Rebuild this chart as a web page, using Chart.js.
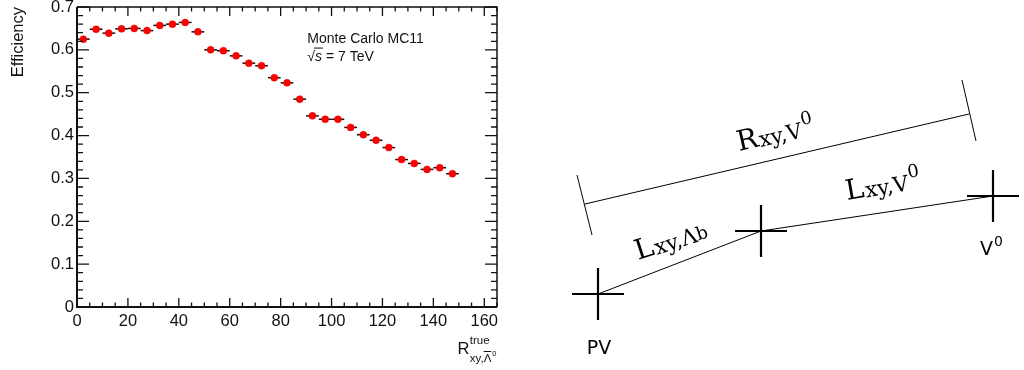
<!DOCTYPE html>
<html>
<head>
<meta charset="utf-8">
<script src="https://cdn.jsdelivr.net/npm/chart.js@4.4.1/dist/chart.umd.min.js"></script>
<style>
  body { margin: 0; background: #fff; width: 1024px; height: 370px; overflow: hidden; position: relative; }
  .box { position: absolute; top: 0; height: 370px; }
  #effBox { left: 0; width: 520px; }
  #vtxBox { left: 520px; width: 504px; }
</style>
</head>
<body>
<div class="box" id="effBox"><canvas id="effChart"></canvas></div>
<div class="box" id="vtxBox"><canvas id="vtxChart"></canvas></div>
<script>
// DATOS - eficiencia vs R_xy

const binCenters = [2.5, 7.5, 12.5, 17.5, 22.5, 27.5, 32.5, 37.5, 42.5, 47.5,
  52.5, 57.5, 62.5, 67.5, 72.5, 77.5, 82.5, 87.5, 92.5, 97.5,
  102.5, 107.5, 112.5, 117.5, 122.5, 127.5, 132.5, 137.5, 142.5, 147.5];
const binHalfWidth = 2.5;
const efficiency = [0.625, 0.648, 0.639, 0.649, 0.650, 0.645, 0.657, 0.660, 0.664, 0.642,
  0.600, 0.598, 0.586, 0.569, 0.563, 0.535, 0.523, 0.485, 0.446, 0.438,
  0.438, 0.419, 0.402, 0.389, 0.372, 0.344, 0.335, 0.321, 0.325, 0.311];
const xTickStep = 20;
const xMinorStep = 5;
const yTickStep = 0.1;
const yMinorStep = 0.02;
const infoLines = ['Monte Carlo MC11', '= 7 TeV'];

// DATOS - esquema de vertices (PV, vertice Lambda_b, V0)
const vertexX = [0, 163, 395];
const vertexY = [0, 63, 98];
const bracketX = [-13, 371];
const bracketY = [90, 180];
const capLeftX = [-21, -6];
const capLeftY = [119, 59];
const capRightX = [364, 378];
const capRightY = [214, 153];

const SANS = '"Liberation Sans", Arial, sans-serif';
const SERIF = '"DejaVu Serif", "Liberation Serif", serif';
const INK = '#111';

Chart.defaults.font.family = SANS;
Chart.defaults.color = INK;

// Frame estilo ROOT: ticks hacia adentro, barras de error, titulos

const rootFrame = {
  id: 'rootFrame',
  beforeDatasetsDraw(chart) {
    const { ctx, scales: { x, y } } = chart;
    ctx.save();
    ctx.strokeStyle = INK;
    ctx.lineWidth = 1.5;
    binCenters.forEach((c, i) => {
      const py = y.getPixelForValue(efficiency[i]);
      ctx.beginPath();
      ctx.moveTo(x.getPixelForValue(c - binHalfWidth), py);
      ctx.lineTo(x.getPixelForValue(c + binHalfWidth), py);
      ctx.stroke();
    });
    ctx.restore();
  },
  afterDraw(chart) {
    const { ctx, chartArea: a, scales: { x, y } } = chart;
    ctx.save();
    ctx.strokeStyle = INK;

    // ticks eje x (abajo y arriba)
    ctx.lineWidth = 1.3;
    for (let v = x.min; v <= x.max + 1e-9; v += xMinorStep) {
      const px = x.getPixelForValue(v);
      const len = Math.abs(v % xTickStep) < 1e-9 ? 9 : 4.5;
      ctx.beginPath();
      ctx.moveTo(px, a.bottom); ctx.lineTo(px, a.bottom - len);
      ctx.moveTo(px, a.top); ctx.lineTo(px, a.top + len);
      ctx.stroke();
    }
    // ticks eje y (izq y der)
    let k = 0;
    for (let v = y.min; v <= y.max + 1e-9; v += yMinorStep, k++) {
      const py = y.getPixelForValue(v);
      const len = k % Math.round(yTickStep / yMinorStep) === 0 ? 12 : 6;
      ctx.beginPath();
      ctx.moveTo(a.left, py); ctx.lineTo(a.left + len, py);
      ctx.moveTo(a.right, py); ctx.lineTo(a.right - len, py);
      ctx.stroke();
    }

    // marco
    ctx.lineWidth = 2;
    ctx.beginPath();
    ctx.moveTo(a.left, a.top); ctx.lineTo(a.left, a.bottom); ctx.lineTo(a.right, a.bottom);
    ctx.stroke();
    ctx.lineWidth = 1.5;
    ctx.beginPath();
    ctx.moveTo(a.left, a.top); ctx.lineTo(a.right, a.top); ctx.lineTo(a.right, a.bottom);
    ctx.stroke();

    ctx.fillStyle = INK;
    ctx.textBaseline = 'alphabetic';

    // titulo eje y
    ctx.save();
    ctx.translate(23, a.top);
    ctx.rotate(-Math.PI / 2);
    ctx.textAlign = 'right';
    ctx.font = '16.5px ' + SANS;
    ctx.fillText('Efficiency', 0, 0);
    ctx.restore();

    // titulo eje x: R^{true}_{xy,#bar{#Lambda}^{0}}
    ctx.textAlign = 'left';
    ctx.font = '16.5px ' + SANS;
    const wR = ctx.measureText('R').width;
    ctx.font = '11.5px ' + SANS;
    const wSup = ctx.measureText('true').width;
    const wSubA = ctx.measureText('xy,').width;
    const wLam = ctx.measureText('Λ').width;
    ctx.font = '7.5px ' + SANS;
    const wZero = ctx.measureText('0').width;
    const total = wR + Math.max(wSup, wSubA + wLam + wZero + 1);
    let tx = a.right - total - 1;
    const base = a.bottom + 47;
    ctx.font = '16.5px ' + SANS;
    ctx.fillText('R', tx, base);
    tx += wR + 0.5;
    ctx.font = '11.5px ' + SANS;
    ctx.fillText('true', tx, base - 10);
    ctx.fillText('xy,Λ', tx, base + 8);
    ctx.lineWidth = 1;
    ctx.beginPath();
    ctx.moveTo(tx + wSubA, base - 2.5);
    ctx.lineTo(tx + wSubA + wLam, base - 2.5);
    ctx.stroke();
    ctx.font = '7.5px ' + SANS;
    ctx.fillText('0', tx + wSubA + wLam + 1, base + 2);

    // texto Monte Carlo
    const lx = x.getPixelForValue(90.5);
    ctx.font = '14px ' + SANS;
    ctx.fillText(infoLines[0], lx, y.getPixelForValue(0.617));
    const b2 = y.getPixelForValue(0.575);
    ctx.fillText('√', lx, b2);
    const wRad = ctx.measureText('√').width;
    ctx.font = 'italic 14px ' + SANS;
    ctx.fillText('s', lx + wRad, b2);
    const wS = ctx.measureText('s').width;
    ctx.lineWidth = 1;
    ctx.beginPath();
    ctx.moveTo(lx + wRad - 1, b2 - 12.5);
    ctx.lineTo(lx + wRad + wS + 1, b2 - 12.5);
    ctx.stroke();
    ctx.font = '14px ' + SANS;
    ctx.fillText(' ' + infoLines[1], lx + wRad + wS, b2);

    ctx.restore();
  }
};

new Chart(document.getElementById('effChart'), {
  type: 'scatter',
  data: {
    datasets: [{
      label: 'Efficiency',
      data: binCenters.map((c, i) => ({ x: c, y: efficiency[i] })),
      pointRadius: 3.5,
      pointBackgroundColor: '#ff0000',
      pointBorderColor: '#e00000',
      pointBorderWidth: 0.5
    }]
  },
  options: {
    responsive: true,
    maintainAspectRatio: false,
    animation: false,
    events: [],
    layout: { autoPadding: false, padding: { top: 7, right: 23, left: 0, bottom: 0 } },
    plugins: { legend: { display: false }, tooltip: { enabled: false } },
    scales: {
      x: {
        type: 'linear',
        min: 0,
        max: 165,
        grid: { display: false, drawTicks: false },
        border: { display: false },
        afterFit(s) { s.height = 63; s.paddingLeft = 0; s.paddingRight = 0; },
        ticks: {
          stepSize: xTickStep,
          includeBounds: false,
          autoSkip: false,
          maxRotation: 0,
          padding: 5,
          color: INK,
          font: { size: 16.5, family: SANS }
        }
      },
      y: {
        min: 0,
        max: 0.7,
        grid: { display: false, drawTicks: false },
        border: { display: false },
        afterFit(s) { s.width = 77; s.paddingTop = 0; s.paddingBottom = 0; },
        ticks: {
          stepSize: yTickStep,
          padding: 3,
          color: INK,
          font: { size: 16.5, family: SANS }
        }
      }
    }
  },
  plugins: [rootFrame]
});

// Esquema: etiquetas rotadas

function drawRich(ctx, parts, px, py, angle, align) {
  ctx.save();
  ctx.translate(px, py);
  ctx.rotate(angle * Math.PI / 180);
  let total = 0;
  parts.forEach(p => {
    ctx.font = p.font;
    p.w = ctx.measureText(p.text).width;
    total += p.w + (p.gap || 0);
  });
  let cx = align === 'center' ? -total / 2 : 0;
  parts.forEach(p => {
    ctx.font = p.font;
    ctx.fillText(p.text, cx + (p.gap || 0), p.dy || 0);
    cx += p.w + (p.gap || 0);
  });
  ctx.restore();
}

const vertexLabels = {
  id: 'vertexLabels',
  afterDraw(chart) {
    const { ctx, scales: { x, y } } = chart;
    const X = v => x.getPixelForValue(v);
    const Y = v => y.getPixelForValue(v);
    ctx.save();
    ctx.fillStyle = '#000';
    ctx.textBaseline = 'alphabetic';
    ctx.textAlign = 'left';
    const big = '28px ' + SERIF, mid = '21.5px ' + SERIF, sm = '18px ' + SERIF;

    drawRich(ctx, [
      { text: 'R', font: big },
      { text: 'xy,V', font: mid, dy: 1, gap: 1 },
      { text: '0', font: sm, dy: -11, gap: 1 }
    ], X(141), Y(143), -13);

    drawRich(ctx, [
      { text: 'L', font: big },
      { text: 'xy,V', font: mid, dy: 1, gap: 1 },
      { text: '0', font: sm, dy: -11, gap: 1 }
    ], X(249), Y(94), -10);

    drawRich(ctx, [
      { text: 'L', font: big },
      { text: 'xy,Λ', font: mid, dy: 1, gap: 1 },
      { text: 'b', font: sm, dy: 0, gap: 0 }
    ], X(40), Y(34), -18);

    const sans = '19px "DejaVu Sans", sans-serif';
    drawRich(ctx, [{ text: 'PV', font: sans }], X(vertexX[0] + 1), Y(vertexY[0] - 60), 0, 'center');
    drawRich(ctx, [
      { text: 'V', font: sans },
      { text: '0', font: '14px "DejaVu Sans", sans-serif', dy: -9, gap: 1 }
    ], X(vertexX[2] - 13), Y(vertexY[2] - 59), 0);
    ctx.restore();
  }
};

const thinLine = { showLine: true, borderColor: '#000', borderWidth: 1, pointRadius: 0 };

new Chart(document.getElementById('vtxChart'), {
  type: 'scatter',
  data: {
    datasets: [
      { ...thinLine, label: 'flight', data: vertexX.map((v, i) => ({ x: v, y: vertexY[i] })) },
      { ...thinLine, label: 'R', data: bracketX.map((v, i) => ({ x: v, y: bracketY[i] })) },
      { ...thinLine, label: 'capL', data: capLeftX.map((v, i) => ({ x: v, y: capLeftY[i] })) },
      { ...thinLine, label: 'capR', data: capRightX.map((v, i) => ({ x: v, y: capRightY[i] })) },
      {
        label: 'vertices',
        data: vertexX.map((v, i) => ({ x: v, y: vertexY[i] })),
        pointStyle: 'cross',
        pointRadius: 26,
        borderColor: '#000',
        borderWidth: 2.2
      }
    ]
  },
  options: {
    responsive: true,
    maintainAspectRatio: false,
    animation: false,
    events: [],
    layout: { autoPadding: false, padding: 0 },
    plugins: { legend: { display: false }, tooltip: { enabled: false } },
    scales: {
      x: { type: 'linear', display: false, min: -78, max: 426 },
      y: { type: 'linear', display: false, min: -76, max: 294 }
    }
  },
  plugins: [vertexLabels]
});
</script>
</body>
</html>
